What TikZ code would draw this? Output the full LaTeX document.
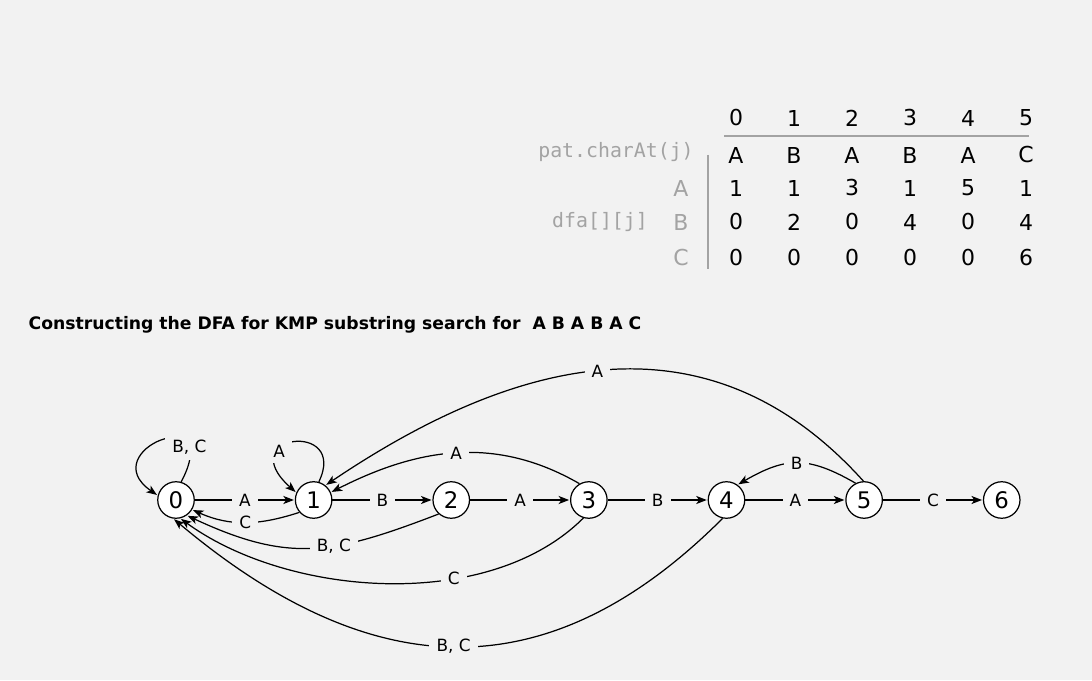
\documentclass[tikz,border=0pt]{standalone}
\usepackage{fontspec}
\setmainfont{DejaVu Sans}
\setmonofont{DejaVu Sans Mono}
\usetikzlibrary{arrows.meta,positioning}
\definecolor{bgc}{HTML}{F2F2F2}
\definecolor{softgray}{HTML}{A3A3A3}

\begin{document}
\begin{tikzpicture}[x=0.02cm,y=0.02cm,->,>={Stealth[length=6pt,width=4.6pt,inset=1.6pt]},
                    shorten >=0.5pt,node distance=2.753cm,line width=0.7pt]
  \tikzstyle{state}=[circle,draw=black,fill=white,text=black,minimum size=0.73cm,
                     inner sep=0pt,font=\fontsize{13}{15}\selectfont]
  \tikzstyle{lbl}=[fill=bgc,inner xsep=4pt,inner ysep=3pt,font=\fontsize{9.6}{11}\selectfont]
  \tikzstyle{cell}=[font=\fontsize{12.5}{15}\selectfont]
  \tikzstyle{side}=[text=softgray,font=\ttfamily\fontsize{11.3}{13}\selectfont]

  \fill[bgc] (0,0) rectangle (1092,680);
  \useasboundingbox (0,0) rectangle (1092,680);

  % dfa table
  \foreach \c [count=\i from 0] in {0,1,2,3,4,5}
    \node[cell] (h\i) at (736+58*\i,562) {\c};
  \foreach \c [count=\i from 0] in {A,B,A,B,A,C}
    \node[cell] (p\i) at (736+58*\i,525) {\c};
  \foreach \c [count=\i from 0] in {1,1,3,1,5,1}
    \node[cell] (a\i) at (736+58*\i,492) {\c};
  \foreach \c [count=\i from 0] in {0,2,0,4,0,4}
    \node[cell] (b\i) at (736+58*\i,458) {\c};
  \foreach \c [count=\i from 0] in {0,0,0,0,0,6}
    \node[cell] (c\i) at (736+58*\i,422) {\c};
  \node[side] (pat) at (616,528) {pat.charAt(j)};
  \node[side] (dfa) at (600,458) {dfa[][j]};
  \node[cell,text=softgray] (ra) at (681,492) {A};
  \node[cell,text=softgray] (rb) at (681,458) {B};
  \node[cell,text=softgray] (rc) at (681,422) {C};
  \draw[-,softgray] (724,544) -- (1030,544);
  \draw[-,softgray] (708,525) -- (708,410);

  \node[anchor=west,inner sep=0pt,font=\bfseries\fontsize{9.8}{12}\selectfont] (title)
    at (28,355) {Constructing the DFA for KMP substring search for~ A B A B A C};

  % states
  \node[state] (s0) at (176,180) {0};
  \node[state] (s1) [right of=s0] {1};
  \node[state] (s2) [right of=s1] {2};
  \node[state] (s3) [right of=s2] {3};
  \node[state] (s4) [right of=s3] {4};
  \node[state] (s5) [right of=s4] {5};
  \node[state] (s6) [right of=s5] {6};

  \path (s0) edge node[lbl] {A} (s1)
        (s1) edge node[lbl] {B} (s2)
        (s2) edge node[lbl] {A} (s3)
        (s3) edge node[lbl] {B} (s4)
        (s4) edge node[lbl] {A} (s5)
        (s5) edge node[lbl] {C} (s6)
        (s1.-139) edge[out=-162,in=-24] node[lbl] {C} (s0.-31)
        (s2.-132) edge[out=-159,in=-25,looseness=1.15] node[lbl,pos=0.4] {B, C} (s0.-55)
        (s3.-107) edge[out=-135,in=-36,looseness=0.85] node[lbl,pos=0.35] {C} (s0.-77)
        (s4.-102) edge[out=-135,in=-40,looseness=1.18] node[lbl] {B, C} (s0.-98)
        (s3.120) edge[out=150,in=27] node[lbl] {A} (s1.24)
        (s5.92) edge[out=132,in=34,looseness=1.1] node[lbl,pos=0.52] {A} (s1.51)
        (s5.117) edge[out=150,in=30,looseness=1.2] node[lbl] {B} (s4.54);

  \draw (s0.74) .. controls +(44,83) and +(-65,45) .. (s0.166) node[lbl,pos=0.2] {B, C};
  \draw (s1.74) .. controls +(30,62) and +(-65,58) .. (s1.157) node[lbl,pos=0.68] {A};
\end{tikzpicture}
\end{document}
